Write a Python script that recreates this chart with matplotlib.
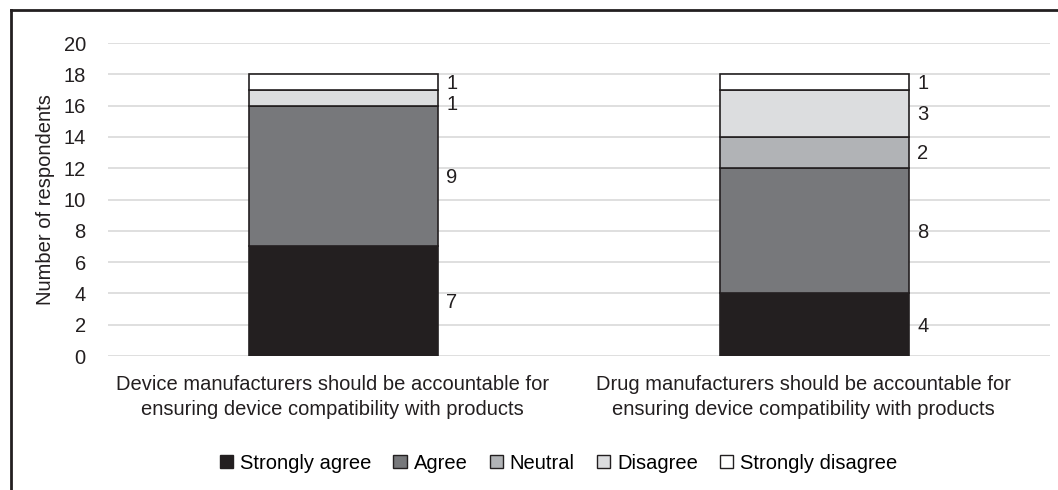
import matplotlib.pyplot as plt
import matplotlib.transforms as mtransforms
import numpy as np
from matplotlib.patches import Patch
from matplotlib.lines import Line2D

plt.rcParams['font.family'] = ['Liberation Sans', 'DejaVu Sans']

# ── data ──────────────────────────────────────────────────────────────────────
categories = [
    "Device manufacturers should be accountable for\nensuring device compatibility with products",
    "Drug manufacturers should be accountable for\nensuring device compatibility with products",
]
responses = ["Strongly agree", "Agree", "Neutral", "Disagree", "Strongly disagree"]
strongly_agree    = [7, 4]
agree             = [9, 8]
neutral           = [0, 2]
disagree          = [1, 3]
strongly_disagree = [1, 1]
series = [strongly_agree, agree, neutral, disagree, strongly_disagree]
colors = ["#231f20", "#77787b", "#b1b3b6", "#dcdddf", "#ffffff"]
edge = "#231f20"
FS = 14.5

# ── plot ──────────────────────────────────────────────────────────────────────
fig = plt.figure(figsize=(10.58, 4.90), dpi=100)
ax = fig.add_axes([108 / 1058, 1 - 356 / 490, 942 / 1058, (356 - 43) / 490])

data = np.array(series, dtype=float)          # rows = response, cols = category
x = np.arange(len(categories))
bottom = np.zeros(len(categories))
for k, col in enumerate(colors):
    vals = data[k]
    ax.bar(x, vals, 0.4, bottom=bottom, color=col, edgecolor=edge,
           linewidth=1.2, zorder=3)
    for i in range(len(x)):
        v = vals[i]
        if v <= 0:
            continue
        # thin segment with another thin one right above: push label down a bit
        above = [a for a in data[k + 1:, i] if a > 0]
        dy = -5 if (v == 1 and above and above[0] == 1) else -1
        ax.annotate(f"{int(v)}", (x[i] + 0.2, bottom[i] + v / 2), xytext=(6, dy),
                    textcoords="offset points", ha="left", va="center",
                    fontsize=FS, color="#231f20")
    bottom += vals

ax.set_xlim(-0.5, 1.5)
ax.set_ylim(0, 20)
ax.set_yticks(range(0, 21, 2))
ax.set_xticks(x)
ax.set_xticklabels(categories, fontsize=FS, color="#231f20", linespacing=1.35)
ax.tick_params(axis="both", length=0, labelsize=FS, labelcolor="#231f20")
ax.tick_params(axis="x", pad=14)
ax.tick_params(axis="y", pad=16)
shift = mtransforms.ScaledTranslation(-0.11, 0, fig.dpi_scale_trans)
for lbl in ax.get_xticklabels():
    lbl.set_transform(lbl.get_transform() + shift)
ax.grid(axis="y", color="#d9d9d9", lw=1.2, zorder=0)
for s in ax.spines.values():
    s.set_visible(False)
ax.set_ylabel("Number of respondents", fontsize=FS, color="#231f20", labelpad=6)

handles = [Patch(facecolor=c, edgecolor=edge, linewidth=1.0) for c in colors]
fig.legend(handles, responses, loc="center", bbox_to_anchor=(0.528, 1 - 463 / 490),
           ncol=5, frameon=False, fontsize=FS, handlelength=0.65, handleheight=0.65,
           handletextpad=0.35, columnspacing=1.1)

# frame lines (top and left)
fig.add_artist(Line2D([11 / 1058, 1], [1 - 10 / 490, 1 - 10 / 490], color="#231f20",
                      lw=2, transform=fig.transFigure))
fig.add_artist(Line2D([11 / 1058, 11 / 1058], [0, 1 - 10 / 490], color="#231f20",
                      lw=2, transform=fig.transFigure))

plt.savefig("out.png", dpi=100)
